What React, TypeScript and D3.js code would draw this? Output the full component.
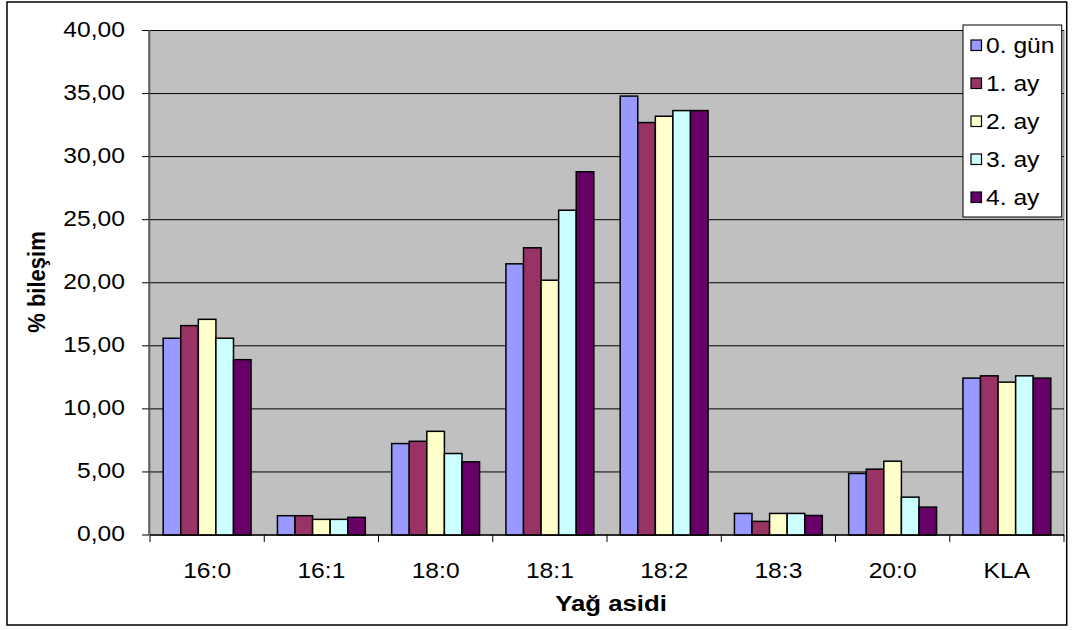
import React from "react";
import * as d3 from "d3";

// Fatty acid composition (%) per storage period
const categories = ["16:0", "16:1", "18:0", "18:1", "18:2", "18:3", "20:0", "KLA"];
const seriesNames = ["0. gün", "1. ay", "2. ay", "3. ay", "4. ay"];
const day0 = [15.6, 1.53, 7.25, 21.5, 34.8, 1.71, 4.88, 12.44];
const month1 = [16.6, 1.53, 7.43, 22.77, 32.7, 1.08, 5.22, 12.62];
const month2 = [17.1, 1.24, 8.22, 20.2, 33.2, 1.71, 5.85, 12.12];
const month3 = [15.6, 1.24, 6.46, 25.75, 33.65, 1.71, 3.0, 12.62];
const month4 = [13.9, 1.4, 5.8, 28.8, 33.65, 1.55, 2.21, 12.44];
const seriesValues = [day0, month1, month2, month3, month4];
const colors = ["#9999FF", "#993366", "#FFFFCC", "#CCFFFF", "#660066"];
const yTicks = [0, 5, 10, 15, 20, 25, 30, 35, 40];

const W = 1073;
const H = 630;
const plot = { left: 150, right: 1064, top: 30.5, bottom: 535 };
const FONT = "'Liberation Sans', Arial, sans-serif";
const SX = 1.12; // horizontal stretch of the lettering

const fmt = (v: number) => v.toFixed(2).replace(".", ",");

function SText(props: {
  x: number;
  y: number;
  anchor?: string;
  size?: number;
  bold?: boolean;
  rotate?: number;
  children: React.ReactNode;
}) {
  const { x, y, anchor = "start", size = 22, bold = false, rotate = 0, children } = props;
  return (
    <text
      transform={`translate(${x},${y}) scale(${SX},1)${rotate ? ` rotate(${rotate})` : ""}`}
      textAnchor={anchor}
      fontFamily={FONT}
      fontSize={size}
      fontWeight={bold ? "bold" : "normal"}
      fill="#000"
    >
      {children}
    </text>
  );
}

export default function App() {
  const x0 = d3.scaleBand<string>().domain(categories).range([plot.left, plot.right]).padding(0);
  const bw = x0.bandwidth();
  const barW = bw / 6.5; // gap width 150%
  const x1 = d3
    .scaleBand<number>()
    .domain(d3.range(seriesNames.length))
    .range([0.75 * barW, bw - 0.75 * barW])
    .padding(0);
  const y = d3.scaleLinear().domain([0, 40]).range([plot.bottom, plot.top]);

  const legend = { x: 963, y: 25, w: 98.7, h: 192 };

  return (
    <svg
      width={W}
      height={H}
      style={{ position: "absolute", left: 0, top: 0, background: "#fff" }}
    >
      <rect x={7} y={2} width={1059.7} height={623} fill="#fff" stroke="#000" strokeWidth={1.5} />

      {/* plot area */}
      <rect
        x={plot.left}
        y={plot.top}
        width={plot.right - plot.left}
        height={plot.bottom - plot.top}
        fill="#C0C0C0"
        stroke="#808080"
        strokeWidth={1}
      />
      {yTicks.map((t) => (
        <line
          key={"g" + t}
          x1={plot.left}
          x2={plot.right}
          y1={y(t)}
          y2={y(t)}
          stroke="#000"
          strokeWidth={1}
        />
      ))}

      {/* bars */}
      {seriesValues.map((vals, si) =>
        categories.map((c, ci) => (
          <rect
            key={`b${si}-${ci}`}
            x={(x0(c) as number) + (x1(si) as number)}
            y={y(vals[ci])}
            width={x1.bandwidth()}
            height={y(0) - y(vals[ci])}
            fill={colors[si]}
            stroke="#000"
            strokeWidth={1.5}
          />
        ))
      )}

      {/* axes */}
      <line x1={plot.left - 1} x2={plot.left - 1} y1={plot.top} y2={plot.bottom} stroke="#000" strokeWidth={1} />
      <line x1={plot.left} x2={plot.right} y1={plot.bottom} y2={plot.bottom} stroke="#000" strokeWidth={1} />
      {yTicks.map((t) => (
        <g key={"yt" + t}>
          <line x1={142} x2={plot.left - 1} y1={y(t)} y2={y(t)} stroke="#000" strokeWidth={1} />
          <SText x={125} y={y(t) + 6} anchor="end">
            {fmt(t)}
          </SText>
        </g>
      ))}
      {categories.map((c, i) => (
        <line
          key={"xt" + i}
          x1={x0(c) as number}
          x2={x0(c) as number}
          y1={plot.bottom}
          y2={plot.bottom + 7}
          stroke="#000"
          strokeWidth={1}
        />
      ))}
      <line x1={plot.right} x2={plot.right} y1={plot.bottom} y2={plot.bottom + 7} stroke="#000" strokeWidth={1} />
      {categories.map((c) => (
        <SText key={"xl" + c} x={(x0(c) as number) + bw / 2} y={578} anchor="middle">
          {c}
        </SText>
      ))}

      {/* axis titles */}
      <SText x={611} y={611} anchor="middle" size={23} bold>
        Yağ asidi
      </SText>
      <SText x={45} y={282} anchor="middle" size={22} bold rotate={-90}>
        % bileşim
      </SText>

      {/* legend */}
      <rect x={legend.x} y={legend.y} width={legend.w} height={legend.h} fill="#fff" stroke="#000" strokeWidth={1} />
      {seriesNames.map((name, i) => {
        const cy = 45 + i * 38;
        return (
          <g key={"lg" + i}>
            <rect x={971} y={cy - 5} width={10.5} height={10.5} fill={colors[i]} stroke="#000" strokeWidth={1.2} />
            <SText x={986} y={cy + 8}>
              {name}
            </SText>
          </g>
        );
      })}
    </svg>
  );
}
